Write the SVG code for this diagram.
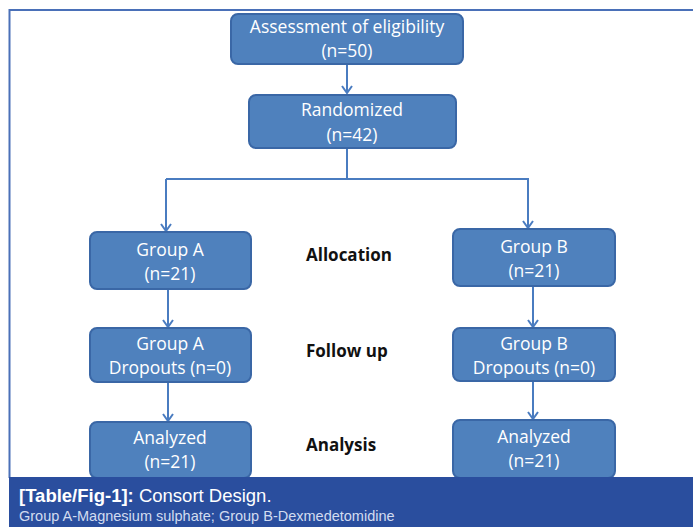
<svg xmlns="http://www.w3.org/2000/svg" width="693" height="527" viewBox="0 0 693 527">
<defs>
<marker id="ah" markerWidth="12" markerHeight="12" refX="10" refY="6" orient="auto" markerUnits="userSpaceOnUse" viewBox="0 0 12 12">
<path d="M3,1 L10,6 L3,11" fill="none" stroke="#4a7cc0" stroke-width="2"/>
</marker>
<style>
.box{fill:#4f81bd;stroke:#3a67a6;stroke-width:2}
.bt{font-family:"Open Sans","Liberation Sans",sans-serif;font-size:17.5px;fill:#ffffff;text-anchor:middle}
.lbl{font-family:"Open Sans","Liberation Sans",sans-serif;font-size:17px;font-weight:bold;fill:#111111}
.con{fill:none;stroke:#4a7cc0;stroke-width:2}
</style>
</defs>
<rect x="0" y="0" width="693" height="527" fill="#ffffff"/>
<path d="M9.5,478 V10 H693" fill="none" stroke="#4a70b8" stroke-width="2"/>

<g id="connectors">
<path class="con" d="M347,64 V93" marker-end="url(#ah)"/>
<path class="con" d="M347,148 V179"/>
<path class="con" d="M166,179 H528 V228" marker-end="url(#ah)"/>
<path class="con" d="M166,179 V231" marker-end="url(#ah)"/>
<path class="con" d="M168,289 V327" marker-end="url(#ah)"/>
<path class="con" d="M533,286 V327" marker-end="url(#ah)"/>
<path class="con" d="M168,382 V421" marker-end="url(#ah)"/>
<path class="con" d="M533,381 V419" marker-end="url(#ah)"/>
</g>

<g id="assessment">
<rect class="box" x="231" y="14" width="232" height="50" rx="7"/>
<text class="bt" x="347" y="33">Assessment of eligibility</text>
<text class="bt" x="347" y="57">(n=50)</text>
</g>
<g id="randomized">
<rect class="box" x="249" y="95" width="207" height="53" rx="7"/>
<text class="bt" x="352" y="116">Randomized</text>
<text class="bt" x="352" y="141">(n=42)</text>
</g>
<g id="groupA">
<rect class="box" x="90" y="232" width="161" height="57" rx="7"/>
<text class="bt" x="170" y="256">Group A</text>
<text class="bt" x="170" y="280">(n=21)</text>
</g>
<g id="groupB">
<rect class="box" x="453" y="229" width="162" height="57" rx="7"/>
<text class="bt" x="534" y="253">Group B</text>
<text class="bt" x="534" y="277">(n=21)</text>
</g>
<g id="dropoutA">
<rect class="box" x="90" y="328" width="161" height="54" rx="7"/>
<text class="bt" x="170" y="350">Group A</text>
<text class="bt" x="170" y="374">Dropouts (n=0)</text>
</g>
<g id="dropoutB">
<rect class="box" x="453" y="328" width="162" height="53" rx="7"/>
<text class="bt" x="534" y="350">Group B</text>
<text class="bt" x="534" y="374">Dropouts (n=0)</text>
</g>
<g id="analyzedA">
<rect class="box" x="90" y="422" width="161" height="56" rx="7"/>
<text class="bt" x="170" y="444">Analyzed</text>
<text class="bt" x="170" y="468">(n=21)</text>
</g>
<g id="analyzedB">
<rect class="box" x="453" y="420" width="162" height="58" rx="7"/>
<text class="bt" x="534" y="443">Analyzed</text>
<text class="bt" x="534" y="467">(n=21)</text>
</g>

<g id="labels">
<text class="lbl" x="306" y="261">Allocation</text>
<text class="lbl" x="306" y="357">Follow up</text>
<text class="lbl" x="306" y="451">Analysis</text>
</g>

<g id="caption">
<rect x="9" y="477" width="684" height="50" fill="#2a4e9e"/>
<text x="19" y="502" font-family="'Liberation Sans',Arial,sans-serif" font-size="18.5" fill="#ffffff"><tspan font-weight="bold">[Table/Fig-1]:</tspan> Consort Design.</text>
<text x="19" y="521" font-family="'Liberation Sans',Arial,sans-serif" font-size="14.5" fill="#d2dcf0">Group A-Magnesium sulphate; Group B-Dexmedetomidine</text>
</g>
</svg>
